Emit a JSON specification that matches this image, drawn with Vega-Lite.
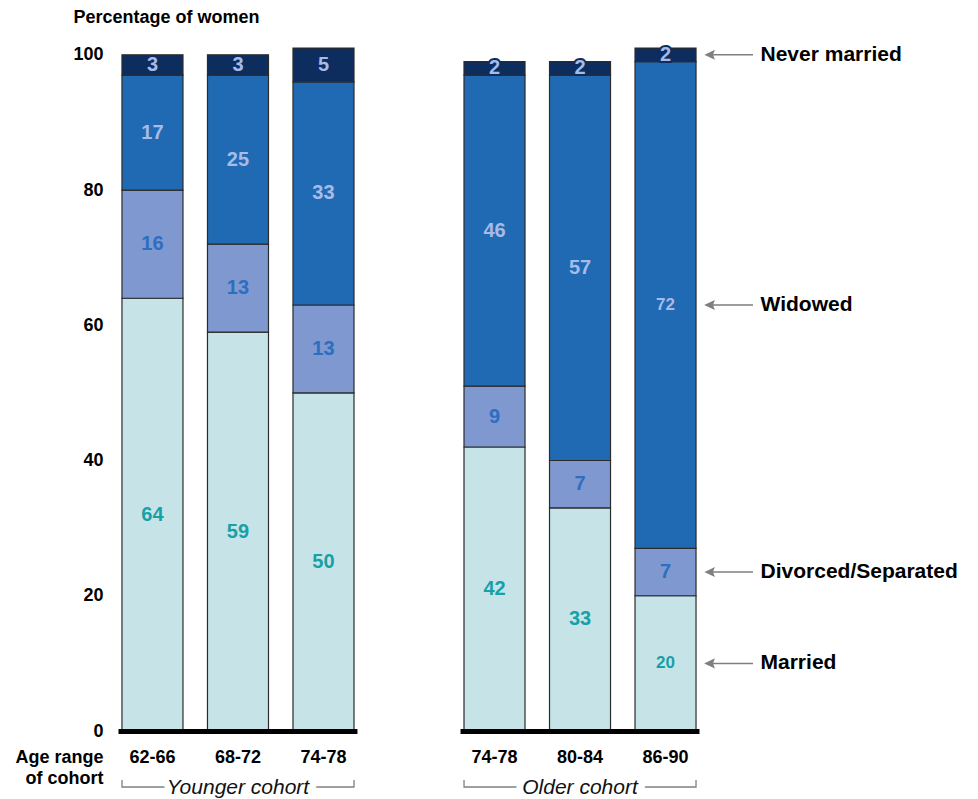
{
  "$schema": "https://vega.github.io/schema/vega-lite/v6.json",
  "width": 598,
  "height": 710,
  "autosize": {"type": "none"},
  "padding": {"left": 110, "top": 21, "right": 270, "bottom": 68},
  "background": "white",
  "config": {"view": {"stroke": null}, "font": "Liberation Sans"},
  "layer": [
    {
      "data": {
        "values": [
          {"cat": "Younger|62-66", "status": "Married", "pct": 64},
          {"cat": "Younger|62-66", "status": "Divorced/Separated", "pct": 16},
          {"cat": "Younger|62-66", "status": "Widowed", "pct": 17},
          {"cat": "Younger|62-66", "status": "Never married", "pct": 3},
          {"cat": "Younger|68-72", "status": "Married", "pct": 59},
          {"cat": "Younger|68-72", "status": "Divorced/Separated", "pct": 13},
          {"cat": "Younger|68-72", "status": "Widowed", "pct": 25},
          {"cat": "Younger|68-72", "status": "Never married", "pct": 3},
          {"cat": "Younger|74-78", "status": "Married", "pct": 50},
          {"cat": "Younger|74-78", "status": "Divorced/Separated", "pct": 13},
          {"cat": "Younger|74-78", "status": "Widowed", "pct": 33},
          {"cat": "Younger|74-78", "status": "Never married", "pct": 5},
          {"cat": "Older|74-78", "status": "Married", "pct": 42},
          {"cat": "Older|74-78", "status": "Divorced/Separated", "pct": 9},
          {"cat": "Older|74-78", "status": "Widowed", "pct": 46},
          {"cat": "Older|74-78", "status": "Never married", "pct": 2},
          {"cat": "Older|80-84", "status": "Married", "pct": 33},
          {"cat": "Older|80-84", "status": "Divorced/Separated", "pct": 7},
          {"cat": "Older|80-84", "status": "Widowed", "pct": 57},
          {"cat": "Older|80-84", "status": "Never married", "pct": 2},
          {"cat": "Older|86-90", "status": "Married", "pct": 20},
          {"cat": "Older|86-90", "status": "Divorced/Separated", "pct": 7},
          {"cat": "Older|86-90", "status": "Widowed", "pct": 72},
          {"cat": "Older|86-90", "status": "Never married", "pct": 2}
        ]
      },
      "transform": [
        {"calculate": "indexof(['Married','Divorced/Separated','Widowed','Never married'], datum.status)", "as": "k"},
        {"stack": "pct", "groupby": ["cat"], "sort": [{"field": "k"}], "as": ["p0", "p1"]},
        {"calculate": "(datum.p0 + datum.p1) / 2", "as": "pmid"}
      ],
      "layer": [
        {
          "mark": {"type": "bar", "stroke": "#2b2b2b", "strokeWidth": 1.2},
          "encoding": {
            "x": {
              "field": "cat", "type": "nominal",
              "scale": {"type": "band", "domain": ["Younger|62-66", "Younger|68-72", "Younger|74-78", "gap", "Older|74-78", "Older|80-84", "Older|86-90"], "paddingInner": 0.2865, "paddingOuter": 0.14},
              "axis": {
                "title": ["Age range", "of cohort"],
                "labelExpr": "datum.value == 'gap' ? '' : split(datum.value, '|')[1]",
                "ticks": false, "tickSize": 0, "domain": false, "grid": false,
                "labelAngle": 0, "labelFontSize": 18, "labelFontWeight": "bold", "labelColor": "black",
                "labelPadding": 31, "labelBaseline": "alphabetic",
                "titleFontSize": 18, "titleFontWeight": "bold", "titleColor": "black",
                "titleAlign": "right", "titleBaseline": "alphabetic", "titleX": -7, "titleY": 31, "titleLineHeight": 21
              }
            },
            "y": {
              "field": "p0", "type": "quantitative",
              "scale": {"domain": [0, 105], "nice": false},
              "axis": {
                "values": [0, 20, 40, 60, 80, 100],
                "grid": false, "domain": false, "ticks": false, "tickSize": 0,
                "labelPadding": 7, "labelFontSize": 18, "labelFontWeight": "bold", "labelColor": "black",
                "title": "Percentage of women", "titleAngle": 0, "titleAlign": "left", "titleBaseline": "alphabetic",
                "titleX": -37, "titleY": 1, "titleFontSize": 18, "titleFontWeight": "bold", "titleColor": "black"
              }
            },
            "y2": {"field": "p1"},
            "fill": {
              "field": "status", "type": "nominal",
              "scale": {"domain": ["Married", "Divorced/Separated", "Widowed", "Never married"], "range": ["#c6e4e8", "#7f98cf", "#206ab4", "#0c2d5e"]},
              "legend": null
            }
          }
        },
        {
          "transform": [{"filter": "datum.status == 'Never married'"}],
          "mark": {"type": "text", "fontWeight": "bold", "fontSize": 20, "stroke": "#0c2d5e", "strokeWidth": 4, "strokeJoin": "round", "fill": "#0c2d5e", "baseline": "middle"},
          "encoding": {
            "x": {"field": "cat", "type": "nominal"},
            "y": {"field": "pmid", "type": "quantitative"},
            "text": {"field": "pct", "type": "quantitative"}
          }
        },
        {
          "mark": {"type": "text", "fontWeight": "bold", "baseline": "middle"},
          "encoding": {
            "x": {"field": "cat", "type": "nominal"},
            "y": {"field": "pmid", "type": "quantitative"},
            "text": {"field": "pct", "type": "quantitative"},
            "color": {
              "field": "status", "type": "nominal",
              "scale": {"domain": ["Married", "Divorced/Separated", "Widowed", "Never married"], "range": ["#17a0a6", "#2d6ec0", "#a6bbe7", "#a6bbe7"]},
              "legend": null
            },
            "size": {"condition": {"test": "datum.cat == 'Older|86-90' && (datum.status == 'Married' || datum.status == 'Widowed')", "value": 17}, "value": 20}
          }
        },
        {
          "transform": [{"filter": "datum.cat == 'Older|86-90'"}],
          "mark": {"type": "point", "shape": "M -1 0 L -0.68 -0.15 L -0.74 0 L -0.68 0.15 Z M -0.74 0 L 1 0", "filled": true, "fill": "#7f7f7f", "stroke": "#7f7f7f", "strokeWidth": 1.5, "size": 2209, "xOffset": 64, "opacity": 1},
          "encoding": {
            "x": {"field": "cat", "type": "nominal"},
            "y": {"field": "pmid", "type": "quantitative"}
          }
        },
        {
          "transform": [{"filter": "datum.cat == 'Older|86-90'"}],
          "mark": {"type": "text", "align": "left", "baseline": "middle", "fontWeight": "bold", "fontSize": 21, "xOffset": 95, "color": "black"},
          "encoding": {
            "x": {"field": "cat", "type": "nominal"},
            "y": {"field": "pmid", "type": "quantitative"},
            "text": {"field": "status", "type": "nominal"}
          }
        }
      ]
    },
    {
      "data": {"values": [{"cohort": "Younger cohort", "mid": "Younger|68-72"}, {"cohort": "Older cohort", "mid": "Older|80-84"}]},
      "layer": [
        {
          "mark": {"type": "point", "shape": "M -1.03 -0.022 L 1.03 -0.022 L 1.03 0.022 L -1.03 0.022 Z", "filled": true, "fill": "black", "size": 53824, "opacity": 1, "yOffset": 0.5},
          "encoding": {
            "x": {"field": "mid", "type": "nominal"},
            "y": {"datum": 0, "type": "quantitative"}
          }
        },
        {
          "mark": {"type": "point", "shape": "M -1 -0.06 L -1 0 L 1 0 L 1 -0.06", "filled": false, "stroke": "#808080", "strokeWidth": 1.3, "size": 53824, "opacity": 1, "yOffset": 56},
          "encoding": {
            "x": {"field": "mid", "type": "nominal"},
            "y": {"datum": 0, "type": "quantitative"}
          }
        },
        {
          "mark": {"type": "text", "fontStyle": "italic", "fontSize": 21, "stroke": "white", "strokeWidth": 14, "strokeJoin": "round", "fill": "white", "baseline": "alphabetic", "dy": 63},
          "encoding": {
            "x": {"field": "mid", "type": "nominal"},
            "y": {"datum": 0, "type": "quantitative"},
            "text": {"field": "cohort", "type": "nominal"}
          }
        },
        {
          "mark": {"type": "text", "fontStyle": "italic", "fontSize": 21, "fill": "#111111", "baseline": "alphabetic", "dy": 63},
          "encoding": {
            "x": {"field": "mid", "type": "nominal"},
            "y": {"datum": 0, "type": "quantitative"},
            "text": {"field": "cohort", "type": "nominal"}
          }
        }
      ]
    }
  ]
}
